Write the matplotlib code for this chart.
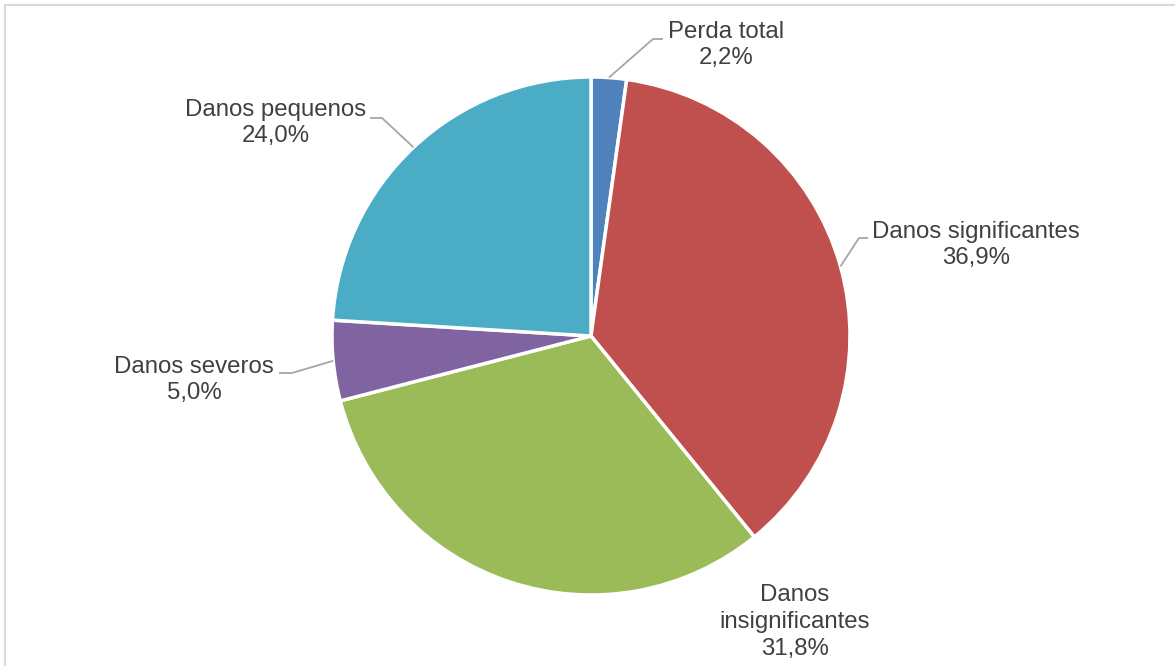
import numpy as np
import matplotlib.pyplot as plt
from matplotlib.patches import Rectangle

# damage categories, clockwise from 12 o'clock
labels = ["Perda total", "Danos significantes", "Danos\ninsignificantes",
          "Danos severos", "Danos pequenos"]
shares = [2.2, 36.9, 31.8, 5.0, 24.0]
colors = ["#4F81BD", "#C0504D", "#9BBB59", "#8064A2", "#4BACC6"]

W, H = 1175, 666
plt.rcParams['font.family'] = ['Liberation Sans', 'DejaVu Sans']

fig = plt.figure(figsize=(W / 100, H / 100), dpi=100)
ax = fig.add_axes([0, 0, 1, 1])

cx, cy, r = 591, H - 336, 259
wedges, _ = ax.pie(shares, colors=colors, startangle=90, counterclock=False,
                   center=(cx, cy), radius=r, frame=True,
                   wedgeprops=dict(edgecolor='white', linewidth=2.5))
ax.set_xlim(0, W)
ax.set_ylim(0, H)
ax.set_aspect('equal')
ax.axis('off')

# label block centres and leader elbows (pixel coords, y from top)
label_pos = [(726, 45), (976, 245), (795, 622), (194, 380), (276, 123)]
elbows = [((653, 39), (663, 39)), ((859, 238), (868, 238)), None,
          ((292, 373), (279, 373)), ((382, 118), (370, 118))]

for w, lab, val, (lx, ly), elb in zip(wedges, labels, shares, label_pos, elbows):
    txt = f"{lab}\n{val:.1f}%".replace(".", ",")
    ax.text(lx, H - ly, txt, ha='center', va='center', fontsize=17.3,
            color='#404040', linespacing=1.28)
    if elb is None:
        continue
    mid = np.deg2rad((w.theta1 + w.theta2) / 2)
    px, py = cx + r * np.cos(mid), cy + r * np.sin(mid)
    (ex, ey), (tx, ty) = elb
    ax.plot([px, ex, tx], [py, H - ey, H - ty], color='#A6A6A6', lw=1.3,
            solid_capstyle='butt')

# chart area frame
fig.patches.append(Rectangle((5 / W, -0.1), 1.2, (H - 5) / H + 0.1,
                             transform=fig.transFigure, fill=False,
                             edgecolor='#D9D9D9', linewidth=1.5))

fig.savefig("out.png", dpi=100)
